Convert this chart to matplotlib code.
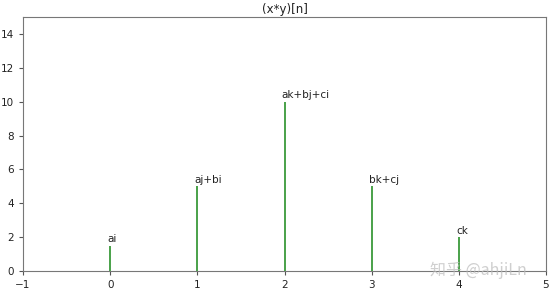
import matplotlib
matplotlib.use("Agg")
import matplotlib.pyplot as plt

n = [0, 1, 2, 3, 4]
values = [1.5, 5, 10, 5, 2]
labels = ["ai", "aj+bi", "ak+bj+ci", "bk+cj", "ck"]

fig = plt.figure(figsize=(5.53, 2.93), dpi=100)
ax = fig.add_axes([23/553, 22/293, 523/553, 254/293])
ax.vlines(n, 0, values, colors="#3a9a3a", linewidth=1.3)
for xi, yi, lab in zip(n, values, labels):
    ax.annotate(lab, (xi, yi), xytext=(-2, 1), textcoords="offset points",
                fontsize=7.5, ha="left", va="bottom", color="#222222")
ax.set_xlim(-1, 5)
ax.set_ylim(0, 15)
ax.set_xticks(range(-1, 6))
ax.set_yticks(range(0, 15, 2))
ax.tick_params(labelsize=7.5, length=3, color="#555555", labelcolor="#222222")
for s in ax.spines.values():
    s.set_color("#777777")
ax.set_title("(x*y)[n]", fontsize=8.5, pad=3, color="#222222")
fig.text(0.778, 0.06, "知乎 @ahjiLn", fontsize=11.5, color="#bbbbbb", alpha=0.7,
         family=["Noto Sans CJK SC", "DejaVu Sans"])
fig.savefig("out.png", dpi=100)
